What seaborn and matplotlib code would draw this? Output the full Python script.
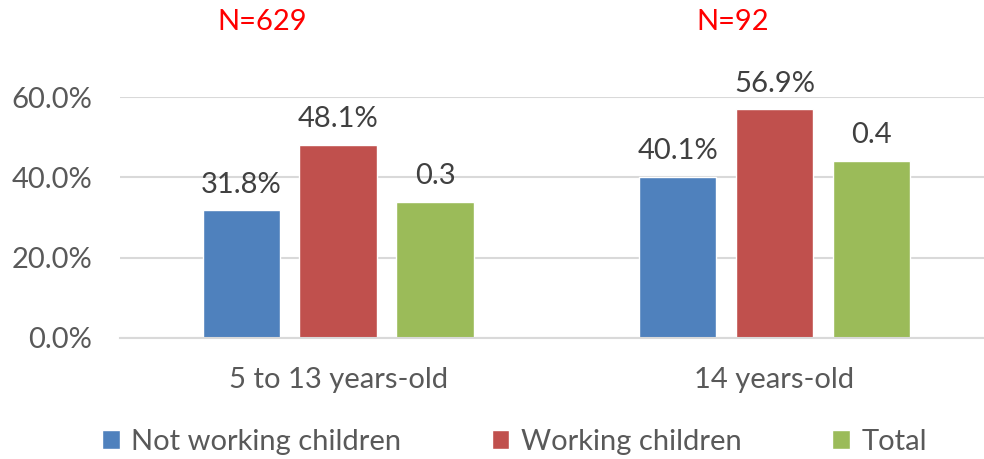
import matplotlib
matplotlib.use("Agg")
import matplotlib.pyplot as plt
import seaborn as sns
import pandas as pd

# Chart data
age_groups = ["5 to 13 years-old", "14 years-old"]
series_names = ["Not working children", "Working children", "Total"]
not_working = [0.318, 0.401]
working = [0.481, 0.569]
total = [0.339, 0.441]
sample_sizes = ["N=629", "N=92"]
y_ticks = [0.0, 0.2, 0.4, 0.6]

colors = ["#4F81BD", "#C0504D", "#9BBB59"]

df = pd.DataFrame({
    "group": age_groups * 3,
    "series": [s for s in series_names for _ in age_groups],
    "value": not_working + working + total,
})

sns.set_theme(style="white")
plt.rcParams["font.family"] = ["Lato", "DejaVu Sans"]

FS = 21

fig = plt.figure(figsize=(9.84, 4.59), dpi=100)
ax = fig.add_axes([120 / 984, 121 / 459, 864 / 984, 241 / 459])

sns.barplot(data=df, x="group", y="value", hue="series", order=age_groups,
            hue_order=series_names, palette=colors, width=0.666, gap=0.2,
            saturation=1, ax=ax, legend=True)

ax.set_ylim(0, 0.6)
ax.set_xlim(-0.5, 1.48)
ax.set_yticks(y_ticks)
ax.set_yticklabels([f"{t*100:.1f}%" for t in y_ticks])
ax.yaxis.grid(True, color="#D9D9D9", linewidth=1.5)
ax.set_axisbelow(True)
for side in ["left", "right", "top"]:
    ax.spines[side].set_visible(False)
ax.spines["bottom"].set_color("#D9D9D9")
ax.spines["bottom"].set_linewidth(1.5)
ax.set_xlabel("")
ax.set_ylabel("")
ax.tick_params(axis="y", length=0, pad=20, labelsize=FS, labelcolor="#595959")
ax.tick_params(axis="x", length=0, pad=21, labelsize=FS, labelcolor="#595959")

# Value labels: percent for the two child series, one decimal for the total
fmts = ["{:.1%}", "{:.1%}", "{:.1f}"]
for cont, fmt in zip(ax.containers, fmts):
    labels = [fmt.format(v) for v in cont.datavalues]
    ax.bar_label(cont, labels=labels, padding=9, fontsize=FS, color="#404040",
                 clip_on=False)

# Sample size annotations above each group
n_x = [-0.175, 0.905]
for x, txt in zip(n_x, sample_sizes):
    ax.text(x, 1.31, txt, transform=ax.get_xaxis_transform(), ha="center",
            va="center", fontsize=FS, color="#FF0000")

handles, labels = ax.get_legend_handles_labels()
ax.legend_.remove()
fig.legend(handles, labels, loc="center", bbox_to_anchor=(0.523, 0.037),
           ncol=3, frameon=False, fontsize=FS, handlelength=0.6,
           handleheight=0.6, handletextpad=0.4, columnspacing=3.1,
           labelcolor="#595959")

fig.savefig("out.png", dpi=100)
